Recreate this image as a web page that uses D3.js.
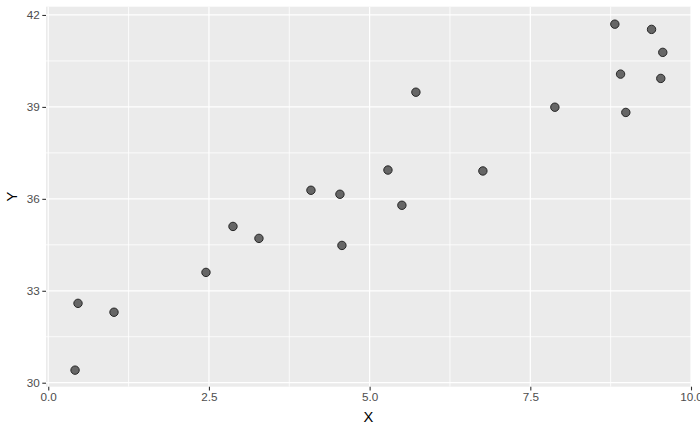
<!DOCTYPE html>
<html>
<head>
<meta charset="utf-8">
<script src="https://cdn.jsdelivr.net/npm/d3@7"></script>
<style>
  html, body { margin: 0; padding: 0; background: #ffffff; }
  svg { display: block; }
</style>
</head>
<body>
<svg id="chart" width="700" height="432"></svg>
<script>
// ---- data ----
const xValues = [0.417, 0.463, 1.023, 2.454, 2.874, 3.278, 4.087, 4.538, 4.569, 5.285,
                 5.502, 5.720, 6.762, 7.882, 8.815, 9.386, 9.561, 8.904, 9.530, 8.986];
const yValues = [30.41, 32.59, 32.30, 33.60, 35.10, 34.71, 36.28, 36.15, 34.48, 36.94,
                 35.79, 39.48, 36.91, 38.99, 41.70, 41.53, 40.78, 40.07, 39.93, 38.82];
const xTicks = [0, 2.5, 5, 7.5, 10];
const xTickLabels = ["0.0", "2.5", "5.0", "7.5", "10.0"];
const xMinor = [1.25, 3.75, 6.25, 8.75];
const yTicks = [30, 33, 36, 39, 42];
const yTickLabels = ["30", "33", "36", "39", "42"];
const yMinor = [31.5, 34.5, 37.5, 40.5];
const xTitle = "X";
const yTitle = "Y";

const points = xValues.map((x, i) => ({ x: x, y: yValues[i] }));

// ---- layout ----
const panel = { left: 46, right: 691, top: 6.7, bottom: 386.7 };
const svg = d3.select("#chart");
const font = "'Liberation Sans', Arial, sans-serif";

const x = d3.scaleLinear().domain([-0.035, 10.0]).range([panel.left, panel.right]);
const y = d3.scaleLinear().domain([29.87, 42.27]).range([panel.bottom, panel.top]);

// panel background
svg.append("rect")
  .attr("x", panel.left).attr("y", panel.top)
  .attr("width", panel.right - panel.left)
  .attr("height", panel.bottom - panel.top)
  .attr("fill", "#EBEBEB");

const grid = svg.append("g");
// minor grid
grid.selectAll("line.xminor").data(xMinor).enter().append("line")
  .attr("x1", d => x(d)).attr("x2", d => x(d))
  .attr("y1", panel.top).attr("y2", panel.bottom)
  .attr("stroke", "#ffffff").attr("stroke-width", 0.8);
grid.selectAll("line.yminor").data(yMinor).enter().append("line")
  .attr("y1", d => y(d)).attr("y2", d => y(d))
  .attr("x1", panel.left).attr("x2", panel.right)
  .attr("stroke", "#ffffff").attr("stroke-width", 0.8);
// major grid
grid.selectAll("line.xmajor").data(xTicks).enter().append("line")
  .attr("x1", d => x(d)).attr("x2", d => x(d))
  .attr("y1", panel.top).attr("y2", panel.bottom)
  .attr("stroke", "#ffffff").attr("stroke-width", 1.2);
grid.selectAll("line.ymajor").data(yTicks).enter().append("line")
  .attr("y1", d => y(d)).attr("y2", d => y(d))
  .attr("x1", panel.left).attr("x2", panel.right)
  .attr("stroke", "#ffffff").attr("stroke-width", 1.2);

// axes
const xAxis = d3.axisBottom(x).tickValues(xTicks)
  .tickFormat((d, i) => xTickLabels[i]).tickSize(3.7).tickPadding(2.5);
const yAxis = d3.axisLeft(y).tickValues(yTicks)
  .tickFormat((d, i) => yTickLabels[i]).tickSize(3.7).tickPadding(2.5);

const gx = svg.append("g").attr("transform", `translate(0,${panel.bottom})`).call(xAxis);
const gy = svg.append("g").attr("transform", `translate(${panel.left},0)`).call(yAxis);
[gx, gy].forEach(g => {
  g.select(".domain").remove();
  g.selectAll(".tick line").attr("stroke", "#333333").attr("stroke-width", 1.1);
  g.selectAll(".tick text")
    .attr("fill", "#4D4D4D")
    .style("font-family", font)
    .style("font-size", "11.7px");
});

// points
svg.append("g").selectAll("circle").data(points).enter().append("circle")
  .attr("cx", d => x(d.x)).attr("cy", d => y(d.y))
  .attr("r", 4.2)
  .attr("fill", "#666666")
  .attr("stroke", "#262626")
  .attr("stroke-width", 1);

// axis titles
svg.append("text")
  .attr("x", (panel.left + panel.right) / 2).attr("y", 421.5)
  .attr("text-anchor", "middle")
  .style("font-family", font).style("font-size", "14.7px")
  .attr("fill", "#000000").text(xTitle);
svg.append("text")
  .attr("transform", `translate(17,${(panel.top + panel.bottom) / 2}) rotate(-90)`)
  .attr("text-anchor", "middle")
  .style("font-family", font).style("font-size", "14.7px")
  .attr("fill", "#000000").text(yTitle);
</script>
</body>
</html>
